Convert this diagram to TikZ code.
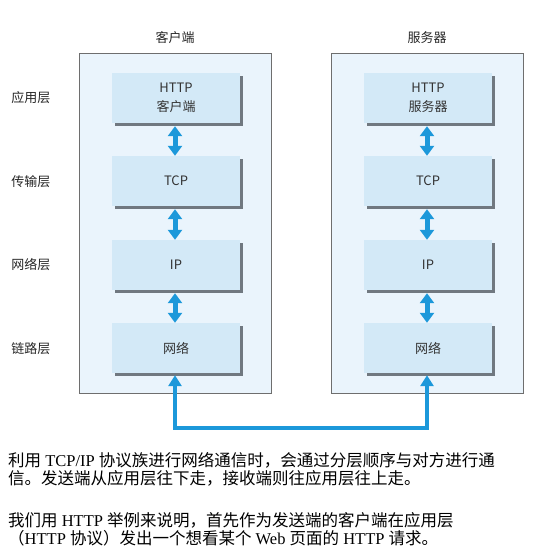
\documentclass[tikz,border=0pt]{standalone}
\usepackage{fontspec}
\setmainfont{Liberation Serif}
\newfontfamily\cjk{Noto Sans CJK SC}
\usetikzlibrary{arrows.meta,shadows}
\definecolor{hostfill}{HTML}{EAF4FC}
\definecolor{layerfill}{HTML}{D3E9F7}
\definecolor{hostedge}{HTML}{6E6E6E}
\definecolor{layeredge}{HTML}{707880}
\definecolor{linkblue}{HTML}{1C98DA}
\begin{document}
\begin{tikzpicture}[x=1pt,y=-1pt,
  host/.style={draw=hostedge,line width=0.8pt,fill=hostfill},
  layer/.style={fill=layerfill,minimum width=128pt,minimum height=50pt,inner sep=0pt,align=center,
    font=\cjk\fontsize{13}{19}\selectfont,text=black!80,
    drop shadow={shadow xshift=3pt,shadow yshift=-3pt,fill=layeredge,opacity=1}},
  tag/.style={font=\cjk\fontsize{13}{16}\selectfont,text=black!85},
  flow/.style={draw=linkblue,line width=5pt,{Triangle[width=14pt,length=10pt]}-{Triangle[width=14pt,length=10pt]}},
  wire/.style={draw=linkblue,line width=4pt,{Triangle[width=13pt,length=11pt]}-{Triangle[width=13pt,length=11pt]}},
  para/.style={anchor=west,inner sep=0pt,font=\fontsize{16.5}{18}\selectfont}]
\useasboundingbox (0,0) rectangle (540,552);
% Drawing hosts
\draw[host] (79,53) rectangle (271,393);
\draw[host] (331,53) rectangle (523,393);
\node[tag] (client) at (175,38) {客户端};
\node[tag] (server) at (427,38) {服务器};
% Drawing layer names
\node[tag] (app) at (31,98) {应用层};
\node[tag] (trans) at (31,182) {传输层};
\node[tag] (net) at (31,265) {网络层};
\node[tag] (link) at (31,349) {链路层};
% Client stack
\node[layer] (httpL) at (176,98) {HTTP\\客户端};
\node[layer] (tcpL) at (176,181) {TCP};
\node[layer] (ipL) at (176,265) {IP};
\node[layer] (lnkL) at (176,348) {网络};
% Server stack
\node[layer] (httpR) at (428,98) {HTTP\\服务器};
\node[layer] (tcpR) at (428,181) {TCP};
\node[layer] (ipR) at (428,265) {IP};
\node[layer] (lnkR) at (428,348) {网络};
% Done with layers; drawing flows
\draw[flow] ([shift={(-1,3)}]httpL.south) -- ([xshift=-1]tcpL.north);
\draw[flow] ([shift={(-1,3)}]tcpL.south) -- ([xshift=-1]ipL.north);
\draw[flow] ([shift={(-1,3)}]ipL.south) -- ([xshift=-1]lnkL.north);
\draw[flow] ([shift={(-1,3)}]httpR.south) -- ([xshift=-1]tcpR.north);
\draw[flow] ([shift={(-1,3)}]tcpR.south) -- ([xshift=-1]ipR.north);
\draw[flow] ([shift={(-1,3)}]ipR.south) -- ([xshift=-1]lnkR.north);
% Line: network between the two hosts
\coordinate (bus) at (175,428);
\draw[wire] ([shift={(-1,2)}]lnkL.south) -- (bus) -| ([shift={(-1,2)}]lnkR.south);
% Done with flows; drawing notes
\node[para] (note1) at (8,460) {{\cjk 利用} TCP/IP {\cjk 协议族进行网络通信时，会通过分层顺序与对方进行通}};
\node[para] (note2) at (8,478) {{\cjk 信。发送端从应用层往下走，接收端则往应用层往上走。}};
\node[para] (note3) at (8,520) {{\cjk 我们用} HTTP {\cjk 举例来说明，首先作为发送端的客户端在应用层}};
\node[para] (note4) at (8,538) {{\cjk （}HTTP {\cjk 协议）发出一个想看某个} Web {\cjk 页面的} HTTP {\cjk 请求。}};
\end{tikzpicture}
\end{document}
